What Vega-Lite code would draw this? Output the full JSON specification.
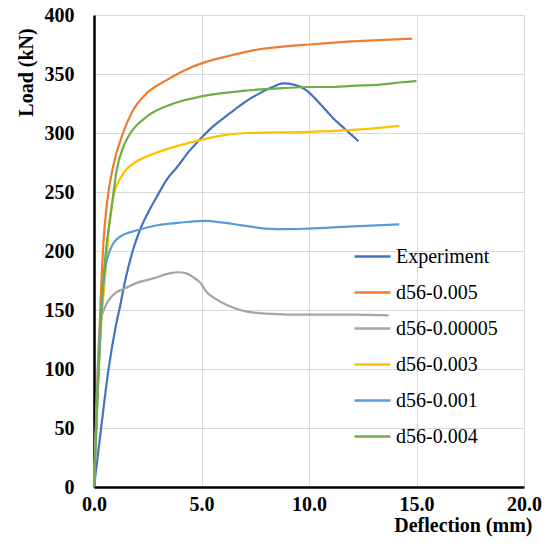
{
  "$schema": "https://vega.github.io/schema/vega-lite/v6.json",
  "width": 430,
  "height": 472,
  "autosize": {"type": "none"},
  "padding": {"left": 94, "top": 15, "right": 26, "bottom": 60},
  "background": "white",
  "config": {
    "view": {"stroke": null},
    "font": "Liberation Serif",
    "axis": {"gridColor": "#d9d9d9", "gridWidth": 1, "ticks": false, "domainColor": "#000000", "domainWidth": 2.5, "labelFont": "Liberation Serif", "labelFontWeight": "bold", "labelFontSize": 20, "labelColor": "#000000", "titleFont": "Liberation Serif", "titleFontWeight": "bold", "titleFontSize": 20, "titleColor": "#000000", "labelFlush": false, "labelOverlap": false},
    "legend": {"labelFont": "Liberation Serif"}
  },
  "data": {"values": [
    {"s":"Experiment","x":0,"y":0},{"s":"Experiment","x":0.3,"y":45},{"s":"Experiment","x":0.67,"y":99},{"s":"Experiment","x":1.0,"y":135},{"s":"Experiment","x":1.21,"y":153},{"s":"Experiment","x":1.45,"y":175},{"s":"Experiment","x":1.8,"y":200},{"s":"Experiment","x":2.14,"y":218},{"s":"Experiment","x":2.5,"y":232},{"s":"Experiment","x":2.92,"y":246},{"s":"Experiment","x":3.4,"y":261},{"s":"Experiment","x":3.86,"y":271},{"s":"Experiment","x":4.4,"y":284},{"s":"Experiment","x":4.94,"y":295},{"s":"Experiment","x":5.5,"y":305},{"s":"Experiment","x":6.34,"y":317},{"s":"Experiment","x":7.0,"y":326},{"s":"Experiment","x":7.74,"y":334},{"s":"Experiment","x":8.3,"y":339},{"s":"Experiment","x":8.8,"y":342},{"s":"Experiment","x":9.3,"y":341},{"s":"Experiment","x":9.9,"y":336},{"s":"Experiment","x":10.5,"y":325},{"s":"Experiment","x":11.1,"y":313},{"s":"Experiment","x":11.7,"y":303},{"s":"Experiment","x":12.3,"y":293},
    {"s":"d56-0.005","x":0,"y":0},{"s":"d56-0.005","x":0.15,"y":80},{"s":"d56-0.005","x":0.3,"y":155},{"s":"d56-0.005","x":0.45,"y":210},{"s":"d56-0.005","x":0.6,"y":240},{"s":"d56-0.005","x":0.88,"y":271},{"s":"d56-0.005","x":1.35,"y":300},{"s":"d56-0.005","x":1.81,"y":319},{"s":"d56-0.005","x":2.47,"y":334},{"s":"d56-0.005","x":3.4,"y":345},{"s":"d56-0.005","x":4.2,"y":353},{"s":"d56-0.005","x":5.0,"y":359},{"s":"d56-0.005","x":6.2,"y":365},{"s":"d56-0.005","x":7.4,"y":370},{"s":"d56-0.005","x":8.7,"y":373},{"s":"d56-0.005","x":10,"y":375},{"s":"d56-0.005","x":12.5,"y":378},{"s":"d56-0.005","x":14.8,"y":380},
    {"s":"d56-0.00005","x":0,"y":0},{"s":"d56-0.00005","x":0.1,"y":60},{"s":"d56-0.00005","x":0.2,"y":115},{"s":"d56-0.00005","x":0.3,"y":140},{"s":"d56-0.00005","x":0.5,"y":152},{"s":"d56-0.00005","x":0.9,"y":163},{"s":"d56-0.00005","x":1.4,"y":168},{"s":"d56-0.00005","x":2.0,"y":173},{"s":"d56-0.00005","x":2.8,"y":177},{"s":"d56-0.00005","x":3.5,"y":181},{"s":"d56-0.00005","x":3.9,"y":182},{"s":"d56-0.00005","x":4.3,"y":181},{"s":"d56-0.00005","x":4.6,"y":178},{"s":"d56-0.00005","x":4.95,"y":173},{"s":"d56-0.00005","x":5.25,"y":165},{"s":"d56-0.00005","x":5.6,"y":160},{"s":"d56-0.00005","x":6.2,"y":154},{"s":"d56-0.00005","x":7.0,"y":149},{"s":"d56-0.00005","x":8.0,"y":147},{"s":"d56-0.00005","x":10,"y":146},{"s":"d56-0.00005","x":12,"y":146},{"s":"d56-0.00005","x":13.7,"y":145.5},
    {"s":"d56-0.003","x":0,"y":0},{"s":"d56-0.003","x":0.15,"y":70},{"s":"d56-0.003","x":0.3,"y":130},{"s":"d56-0.003","x":0.5,"y":175},{"s":"d56-0.003","x":0.7,"y":220},{"s":"d56-0.003","x":0.9,"y":246},{"s":"d56-0.003","x":1.37,"y":266},{"s":"d56-0.003","x":1.9,"y":275},{"s":"d56-0.003","x":2.45,"y":280},{"s":"d56-0.003","x":3.7,"y":288},{"s":"d56-0.003","x":4.94,"y":294},{"s":"d56-0.003","x":6.0,"y":298},{"s":"d56-0.003","x":7.1,"y":300},{"s":"d56-0.003","x":10,"y":301},{"s":"d56-0.003","x":11.8,"y":302.5},{"s":"d56-0.003","x":13,"y":304},{"s":"d56-0.003","x":14.2,"y":306},
    {"s":"d56-0.001","x":0,"y":0},{"s":"d56-0.001","x":0.15,"y":70},{"s":"d56-0.001","x":0.3,"y":130},{"s":"d56-0.001","x":0.42,"y":170},{"s":"d56-0.001","x":0.55,"y":188},{"s":"d56-0.001","x":0.75,"y":201},{"s":"d56-0.001","x":1.2,"y":212},{"s":"d56-0.001","x":2.1,"y":218},{"s":"d56-0.001","x":3.0,"y":222},{"s":"d56-0.001","x":4.0,"y":224},{"s":"d56-0.001","x":5.2,"y":225.5},{"s":"d56-0.001","x":6.0,"y":224},{"s":"d56-0.001","x":6.8,"y":222},{"s":"d56-0.001","x":8.0,"y":219},{"s":"d56-0.001","x":9.0,"y":218.5},{"s":"d56-0.001","x":10,"y":219},{"s":"d56-0.001","x":11.8,"y":220.6},{"s":"d56-0.001","x":14.2,"y":222.5},
    {"s":"d56-0.004","x":0,"y":0},{"s":"d56-0.004","x":0.15,"y":75},{"s":"d56-0.004","x":0.3,"y":140},{"s":"d56-0.004","x":0.5,"y":190},{"s":"d56-0.004","x":0.82,"y":237},{"s":"d56-0.004","x":1.05,"y":268},{"s":"d56-0.004","x":1.4,"y":290},{"s":"d56-0.004","x":1.7,"y":300},{"s":"d56-0.004","x":2.46,"y":314},{"s":"d56-0.004","x":3.7,"y":325},{"s":"d56-0.004","x":5.0,"y":331},{"s":"d56-0.004","x":7.1,"y":336},{"s":"d56-0.004","x":8.8,"y":338},{"s":"d56-0.004","x":10,"y":339},{"s":"d56-0.004","x":11,"y":339},{"s":"d56-0.004","x":12,"y":340},{"s":"d56-0.004","x":13.3,"y":341},{"s":"d56-0.004","x":14.3,"y":343},{"s":"d56-0.004","x":15,"y":344}
  ]},
  "mark": {"type": "line", "interpolate": "monotone", "strokeWidth": 2.2},
  "encoding": {
    "x": {"field": "x", "type": "quantitative", "scale": {"domain": [0, 20], "nice": false},
      "axis": {"values": [0, 5, 10, 15, 20], "format": ".1f", "labelPadding": 7, "labelFlush": false, "title": "Deflection (mm)", "titleAnchor": "end", "titleAlign": "right", "titleX": 438, "titleY": 44, "titleBaseline": "alphabetic"}},
    "y": {"field": "y", "type": "quantitative", "scale": {"domain": [0, 400], "nice": false},
      "axis": {"values": [0, 50, 100, 150, 200, 250, 300, 350, 400], "format": "d", "labelPadding": 20, "labelFlush": false, "title": "Load (kN)", "titleAngle": -90, "titleX": -68, "titleY": 57, "titleAlign": "center", "titleBaseline": "middle"}},
    "color": {"field": "s", "type": "nominal", "sort": null,
      "scale": {"domain": ["Experiment", "d56-0.005", "d56-0.00005", "d56-0.003", "d56-0.001", "d56-0.004"], "range": ["#4472C4", "#ED7D31", "#A5A5A5", "#FFC000", "#5B9BD5", "#70AD47"]},
      "legend": {"title": null, "orient": "none", "legendX": 259, "legendY": 222, "symbolType": "stroke", "symbolSize": 1296, "symbolStrokeWidth": 2.5, "labelFont": "Liberation Serif", "labelFontSize": 20, "labelColor": "#000000", "labelOffset": 4, "rowPadding": 6, "padding": 0, "labelLimit": 300}}
  }
}
